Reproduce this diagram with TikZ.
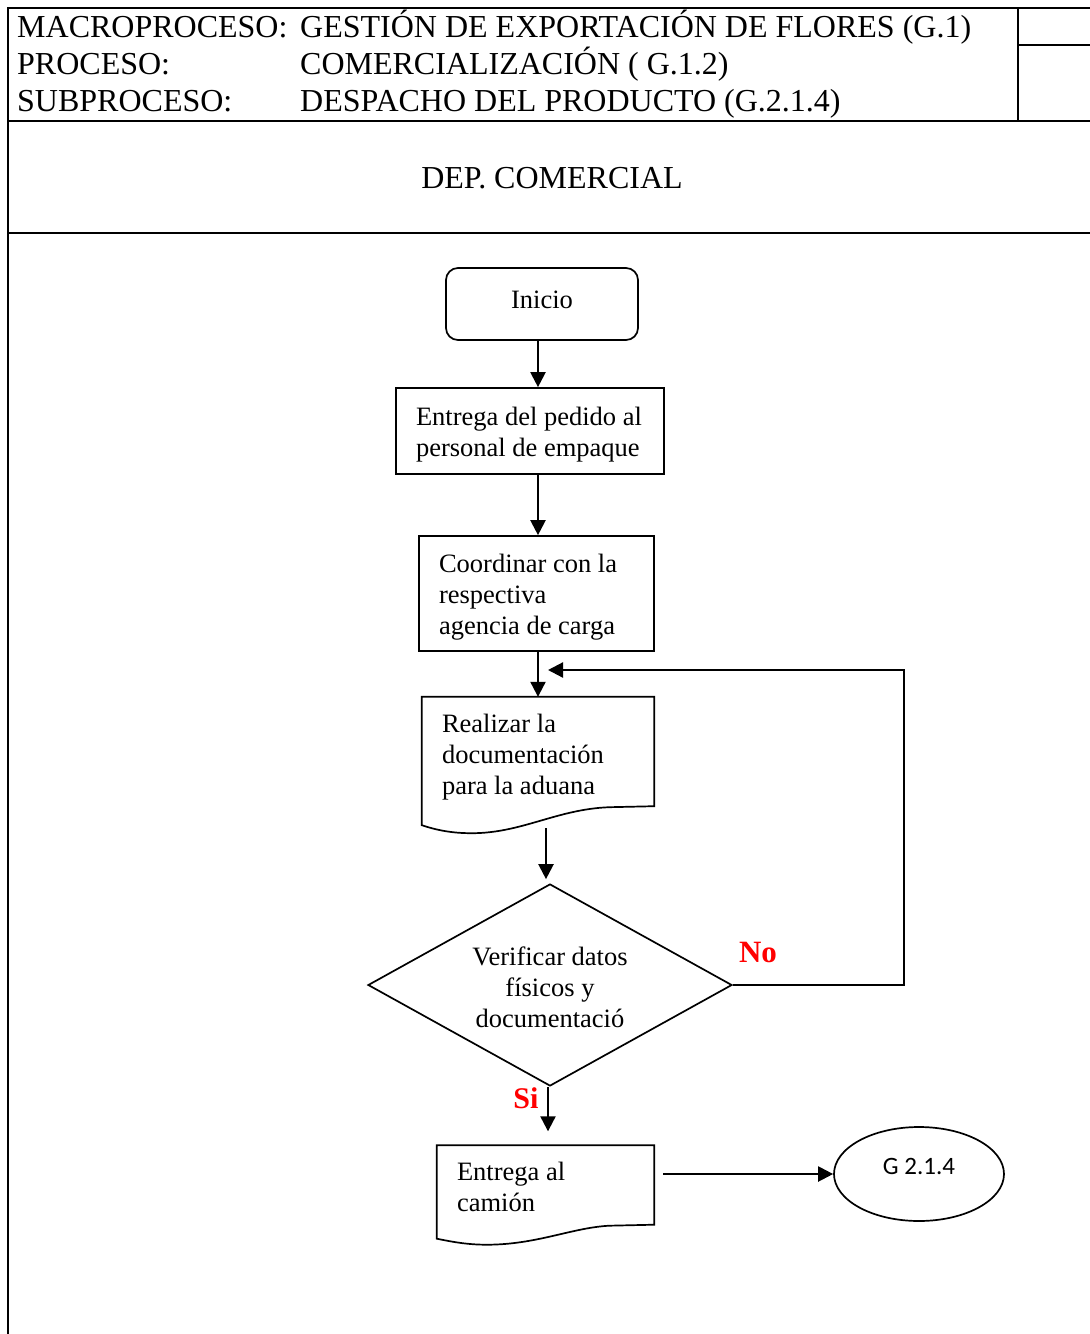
\documentclass[tikz,border=0pt]{standalone}
\usepackage{fontspec}
\setmainfont{Liberation Serif}
\newfontfamily\carlito{Carlito}
\usetikzlibrary{shapes.geometric,arrows.meta,calc}
\newcommand\hdrfont{\fontsize{32}{37}\selectfont}
\newcommand\flowfont{\fontsize{26.5}{31}\selectfont}
% shift contents vertically without changing the box size
\newcommand\nudge[2]{\raisebox{#1}[\height][\depth]{#2}}
% left-aligned block of lines in a fixed-width box, lowered by #2
\newcommand\leftlines[3]{\nudge{-#2}{\makebox[#1][l]{\begin{tabular}{@{}l@{}}#3\end{tabular}}}}
% document symbol: wavy lower edge drawn around a rectangular node
\newcommand\docshape[3]{%
  \draw[shapeline] (#1.south east) -- (#1.north east) -- (#1.north west)
    -- ($(#1.south west)+(0,#2)$)
    .. controls ($(#1.south west)+(15,#3-3)$) and ($(#1.south west)+(30,#3)$) .. ($(#1.south west)+(50,#3)$)
    .. controls ($(#1.south west)+(100,#3)$) and ($(#1.south west)+(135,3)$) .. ($(#1.south east)+(-45,1)$)
    -- cycle;}
\begin{document}
\begin{tikzpicture}[x=1pt,y=-1pt,
  frame/.style={line width=2pt},
  shapeline/.style={line width=1.7pt},
  hdr/.style={anchor=base west,inner sep=0pt,font=\hdrfont},
  procbox/.style={draw,shapeline,rectangle,inner xsep=20pt,inner ysep=0pt,font=\flowfont},
  docbox/.style={rectangle,inner xsep=20pt,inner ysep=0pt,font=\flowfont},
  startbox/.style={draw,shapeline,rectangle,rounded corners=12pt,minimum width=192pt,minimum height=72pt,font=\flowfont},
  decision/.style={draw,shapeline,diamond,aspect=1.8,inner sep=0pt,minimum width=364pt,minimum height=202pt},
  terminal/.style={draw,shapeline,ellipse,inner sep=0pt,minimum width=170pt,minimum height=94pt,font=\fontsize{25}{30}\carlito},
  answer/.style={text=red,font=\fontsize{31}{36}\selectfont\bfseries,inner sep=0pt},
  arr/.style={line width=2.2pt,-{Triangle[length=15pt,width=15pt]}}
]
\useasboundingbox (0,0) rectangle (1090,1334);

% page frame and header grid
\draw[frame] (8,1334) -- (8,8) -- (1090,8);
\draw[frame] (8,121) -- (1090,121);
\draw[frame] (8,233) -- (1090,233);
\draw[frame] (1018,8) -- (1018,121);
\draw[frame] (1018,45) -- (1090,45);

% header text
\node[hdr] (hm) at (17,37) {MACROPROCESO:};
\node[hdr] (hmv) at (300,37) {GESTIÓN DE EXPORTACIÓN DE FLORES (G.1)};
\node[hdr] (hp) at (17,74) {PROCESO:};
\node[hdr] (hpv) at (300,74) {COMERCIALIZACIÓN ( G.1.2)};
\node[hdr] (hs) at (17,111) {SUBPROCESO:};
\node[hdr] (hsv) at (300,111) {DESPACHO DEL PRODUCTO (G.2.1.4)};
\node[hdr,anchor=base] (dep) at (552,188) {DEP. COMERCIAL};

% flow nodes
\node[startbox] (ini) at (542,304) {\nudge{4pt}{Inicio}};
\node[procbox,minimum height=86pt] (b1) at (530,431)
  {\leftlines{228pt}{4pt}{Entrega del pedido al\\personal de empaque}};
\node[procbox,minimum height=115pt] (b2) at (536.5,593.5)
  {\leftlines{195pt}{4pt}{Coordinar con la\\respectiva\\agencia de carga}};
\node[docbox,minimum height=109pt] (d1) at (538,751.5)
  {\leftlines{192pt}{6pt}{Realizar la\\documentación\\para la aduana}};
\docshape{d1}{19}{27}
\node[decision] (dia) at (550,985) {};
\node[font=\flowfont,align=center,inner sep=0pt] (diat) at (550,987)
  {Verificar datos\\físicos y\\documentació};
\node[docbox,minimum height=79pt] (d2) at (545.5,1185)
  {\leftlines{177pt}{5pt}{Entrega al\\camión}};
\docshape{d2}{14}{20}
\node[terminal] (g) at (919,1174) {\nudge{8pt}{G 2.1.4}};

% answer labels
\node[answer] (no) at (758,952) {No};
\node[answer,font=\fontsize{30}{34}\selectfont\bfseries] (si) at (526,1098) {Si};

% connectors
\coordinate (back) at (548,670);
\coordinate (d1out) at (546,828);
\draw[arr] ([xshift=-4pt]ini.south) -- ([xshift=8pt]b1.north);
\draw[arr] ([xshift=8pt]b1.south) -- ([xshift=1.5pt]b2.north);
\draw[arr] ([xshift=1.5pt]b2.south) -- (d1.north);
\draw[arr] (dia.east) -- ++(171,0) |- (back);
\draw[arr,shorten >=4pt] (d1out) -- (d1out |- dia.north);
\draw[arr,shorten >=14pt] ([xshift=-2pt]dia.south) -- ([xshift=-2pt]dia.south |- d2.north);
\draw[arr,shorten <=9pt] (d2.east |- g.west) -- (g.west);
\end{tikzpicture}
\end{document}
